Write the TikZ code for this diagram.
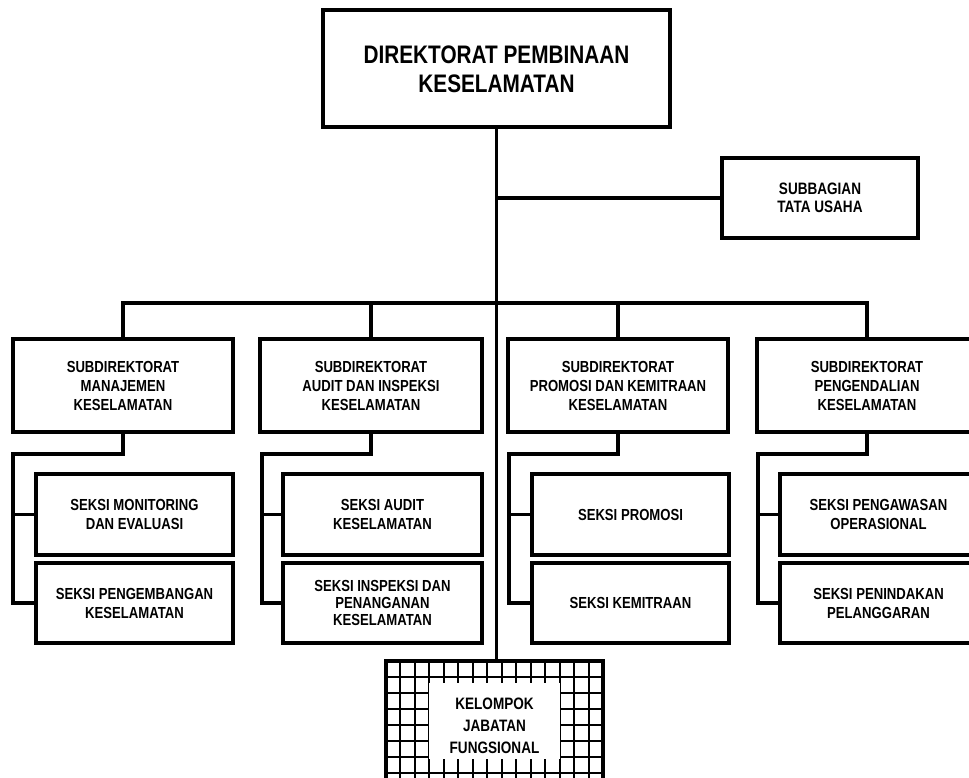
\documentclass[tikz,border=0pt]{standalone}
\usepackage{fontspec}
\setmainfont{Liberation Sans}[FakeStretch=0.82]
\begin{document}
\begin{tikzpicture}[x=0.75pt,y=-0.75pt,
  unitbox/.style={draw, line width=3pt, inner sep=0pt, align=center,
    font={\bfseries\fontsize{12}{14.25}\selectfont}},
  wd/.style={minimum width=#1*0.75pt},
  ht/.style={minimum height=#1*0.75pt},
  conn/.style={line width=2.8pt},
  gridline/.style={line width=1.5pt}]
\useasboundingbox (0,0) rectangle (969,777);
\fill[white] (0,0) rectangle (969,777);
\clip (0,0) rectangle (969,777);

% head of the directorate
\node[unitbox, wd=347, ht=117,
  font={\bfseries\fontsize{19}{21.75}\selectfont}] (dir) at (496.5,69)
  {DIREKTORAT PEMBINAAN\\KESELAMATAN};

% administration unit
\node[unitbox, wd=196, ht=80,
  font={\bfseries\fontsize{12.4}{13.3}\selectfont}] (tu) at (820,198)
  {SUBBAGIAN\\TATA USAHA};

% sub-directorates
\node[unitbox, wd=220, ht=93] (sd1) at (123,385.5)
  {SUBDIREKTORAT\\MANAJEMEN\\KESELAMATAN};
\node[unitbox, wd=222, ht=93] (sd2) at (371,385.5)
  {SUBDIREKTORAT\\AUDIT DAN INSPEKSI\\KESELAMATAN};
\node[unitbox, wd=220, ht=93] (sd3) at (618,385.5)
  {SUBDIREKTORAT\\PROMOSI DAN KEMITRAAN\\KESELAMATAN};
\node[unitbox, wd=220, ht=93] (sd4) at (867,385.5)
  {SUBDIREKTORAT\\PENGENDALIAN\\KESELAMATAN};

% sections
\node[unitbox, wd=197, ht=81] (s1a) at (134.5,514.5)
  {SEKSI MONITORING\\DAN EVALUASI};
\node[unitbox, wd=197, ht=80] (s1b) at (134.5,603)
  {SEKSI PENGEMBANGAN\\KESELAMATAN};
\node[unitbox, wd=199, ht=81] (s2a) at (382.5,514.5)
  {SEKSI AUDIT\\KESELAMATAN};
\node[unitbox, wd=199, ht=80,
  font={\bfseries\fontsize{12}{12.5}\selectfont}] (s2b) at (382.5,603)
  {SEKSI INSPEKSI DAN\\PENANGANAN\\KESELAMATAN};
\node[unitbox, wd=197, ht=81] (s3a) at (630.5,514.5)
  {SEKSI PROMOSI};
\node[unitbox, wd=197, ht=80] (s3b) at (630.5,603)
  {SEKSI KEMITRAAN};
\node[unitbox, wd=197, ht=81] (s4a) at (878.5,514.5)
  {SEKSI PENGAWASAN\\OPERASIONAL};
\node[unitbox, wd=197, ht=80] (s4b) at (878.5,603)
  {SEKSI PENINDAKAN\\PELANGGARAN};

% hatched frame of the functional group
\foreach \k in {1,...,14}
  \draw[gridline] ({386+14.467*\k},661) -- ({386+14.467*\k},790);
\foreach \j in {1,...,8}
  \draw[gridline] (386,{661+16*\j}) -- (603,{661+16*\j});
\fill[white] (429.4,683) rectangle (559.6,759);
\node[unitbox, wd=217, ht=129,
  font={\bfseries\fontsize{12.4}{16.5}\selectfont}] (kjf) at (494.5,725.5)
  {KELOMPOK\\JABATAN\\FUNGSIONAL};

% trunk, staff branch and distribution bus
\coordinate (bus) at (496.5,303);
\draw[conn] (dir.south) -- (dir.south |- kjf.north);
\draw[conn] (dir.south |- tu.west) -- (tu.west);
\draw[conn] (sd1.north) |- (bus) -| (sd4.north);
\draw[conn] (bus -| sd2.north) -- (sd2.north);
\draw[conn] (bus -| sd3.north) -- (sd3.north);

% section rails under each sub-directorate
\coordinate (r1) at (13,454);
\coordinate (r2) at (262,454);
\coordinate (r3) at (509,454);
\coordinate (r4) at (758,454);
\draw[conn] (sd1.south) |- (r1) |- (s1b.west);
\draw[conn] (r1 |- s1a.west) -- (s1a.west);
\draw[conn] (sd2.south) |- (r2) |- (s2b.west);
\draw[conn] (r2 |- s2a.west) -- (s2a.west);
\draw[conn] (sd3.south) |- (r3) |- (s3b.west);
\draw[conn] (r3 |- s3a.west) -- (s3a.west);
\draw[conn] (sd4.south) |- (r4) |- (s4b.west);
\draw[conn] (r4 |- s4a.west) -- (s4a.west);
\end{tikzpicture}
\end{document}
